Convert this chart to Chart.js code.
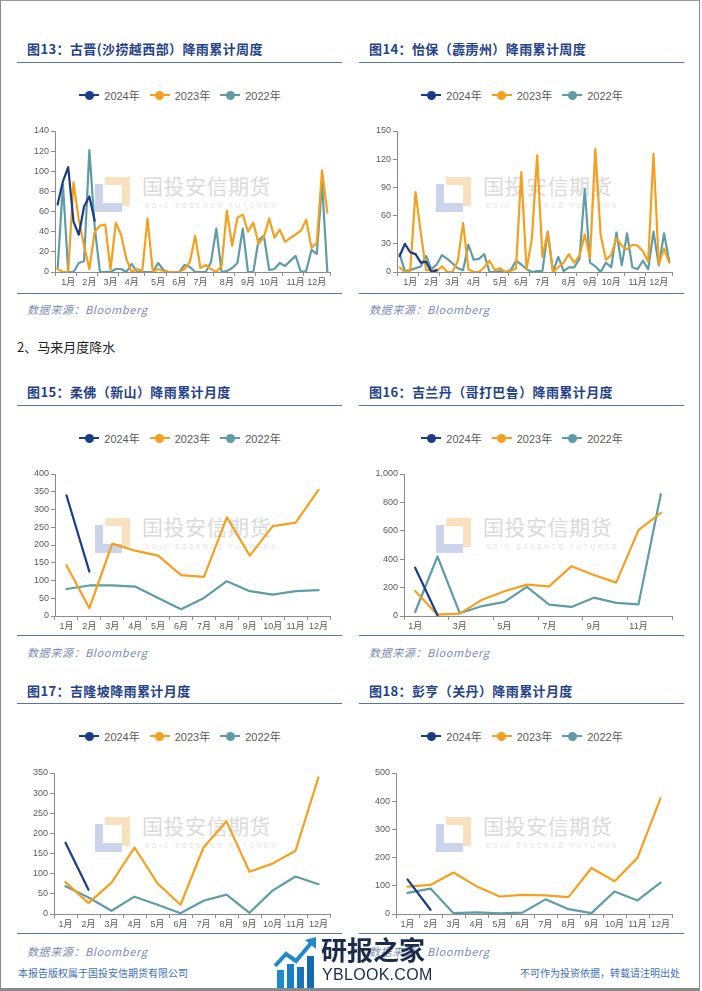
<!DOCTYPE html>
<html lang="zh-CN">
<head>
<meta charset="utf-8">
<title>马来月度降水</title>
<script src="https://cdn.jsdelivr.net/npm/chart.js@4.4.1/dist/chart.umd.min.js"></script>
<style>
  html, body { margin:0; padding:0; background:#fff; }
  body { position:relative; width:702px; height:991px; overflow:hidden; font-family:"Noto Sans CJK SC", sans-serif; }
  .frame { position:absolute; left:0; top:0; width:698px; height:987px; border-left:1px solid #8a8a8a; border-top:1px solid #9a9a9a; border-right:1px solid #8a8a8a; border-bottom:3px solid #8a8a8a; }
  .title { position:absolute; font-size:13px; font-weight:700; color:#24428A; letter-spacing:0.4px; line-height:18px; white-space:nowrap; }
  .section { position:absolute; font-size:13px; color:#222; line-height:18px; white-space:nowrap; }
  .rule { position:absolute; width:325px; height:0; border-top:1.5px solid #5572A9; }
  .source { position:absolute; font-size:11px; font-style:italic; color:#7A8CB6; letter-spacing:0.6px; line-height:14px; white-space:nowrap; }
  .legend { position:absolute; width:324px; height:16px; display:flex; justify-content:center; align-items:center; gap:10px; font-family:"Liberation Sans","Noto Sans CJK SC",sans-serif; font-size:11px; color:#595959; }
  .legend .item { display:flex; align-items:center; gap:5px; }
  .legend .mk { position:relative; width:20px; height:10px; }
  .legend .ln { position:absolute; left:0; top:4px; width:20px; height:2px; }
  .legend .dot { position:absolute; left:5.5px; top:0.5px; width:9px; height:9px; border-radius:50%; }
  .wm { position:absolute; width:200px; height:40px; }
  .wm .or { position:absolute; left:10px; top:0; width:17px; height:21px; border-top:8px solid #F9E1C0; border-right:8px solid #F9E1C0; }
  .wm .bl { position:absolute; left:0; top:7px; width:19px; height:19px; border-left:8px solid #CCD4EC; border-bottom:9px solid #CCD4EC; }
  .wm .t1 { position:absolute; left:47px; top:-5px; font-size:21px; line-height:26px; color:#DADADA; letter-spacing:0.5px; white-space:nowrap; }
  .wm .t2 { position:absolute; left:50px; top:25px; font-family:"Liberation Sans",sans-serif; font-size:6.5px; line-height:8px; color:#E2E2E2; letter-spacing:2.6px; white-space:nowrap; }
  canvas { position:absolute; }
  .foot { position:absolute; font-size:10px; color:#3E6EC0; line-height:14px; white-space:nowrap; }
  .yb1 { position:absolute; left:321px; top:934px; font-size:26px; font-weight:700; color:#1B2B4B; line-height:30px; white-space:nowrap; z-index:5; }
  .yb2 { position:absolute; left:322px; top:965px; font-family:"Liberation Sans",sans-serif; font-size:16px; color:#1B2B4B; line-height:20px; letter-spacing:0.3px; white-space:nowrap; z-index:5; }
</style>
</head>
<body>
<div class="frame"></div>

<div class="title" style="left:27px;top:40px;">图13：古晋(沙捞越西部）降雨累计周度</div>
<div class="title" style="left:369px;top:40px;">图14：怡保（霹雳州）降雨累计周度</div>
<div class="rule" style="left:17px;top:62px;"></div>
<div class="rule" style="left:359px;top:62px;"></div>

<div class="section" style="left:17px;top:338px;">2、马来月度降水</div>

<div class="title" style="left:27px;top:383px;">图15：柔佛（新山）降雨累计月度</div>
<div class="title" style="left:369px;top:383px;">图16：吉兰丹（哥打巴鲁）降雨累计月度</div>
<div class="rule" style="left:17px;top:405px;"></div>
<div class="rule" style="left:359px;top:405px;"></div>

<div class="title" style="left:27px;top:682px;">图17：吉隆坡降雨累计月度</div>
<div class="title" style="left:369px;top:682px;">图18：彭亨（关丹）降雨累计月度</div>
<div class="rule" style="left:17px;top:703px;"></div>
<div class="rule" style="left:359px;top:703px;"></div>

<div class="rule" style="left:17px;top:293px;"></div>
<div class="rule" style="left:359px;top:293px;"></div>
<div class="rule" style="left:17px;top:635px;"></div>
<div class="rule" style="left:359px;top:635px;"></div>
<div class="rule" style="left:17px;top:933px;"></div>
<div class="rule" style="left:359px;top:933px;"></div>

<div class="source" style="left:27px;top:302px;">数据来源：Bloomberg</div>
<div class="source" style="left:369px;top:302px;">数据来源：Bloomberg</div>
<div class="source" style="left:27px;top:645px;">数据来源：Bloomberg</div>
<div class="source" style="left:369px;top:645px;">数据来源：Bloomberg</div>
<div class="source" style="left:27px;top:944px;">数据来源：Bloomberg</div>
<div class="source" style="left:369px;top:944px;">数据来源：Bloomberg</div>

<div id="wm13" class="wm" style="left:95px;top:177px;"></div>
<div id="wm14" class="wm" style="left:436px;top:177px;"></div>
<div id="wm15" class="wm" style="left:95px;top:518px;"></div>
<div id="wm16" class="wm" style="left:436px;top:518px;"></div>
<div id="wm17" class="wm" style="left:95px;top:817px;"></div>
<div id="wm18" class="wm" style="left:436px;top:817px;"></div>

<div id="lg13" class="legend" style="left:18px;top:87px;"></div>
<div id="lg14" class="legend" style="left:360px;top:87px;"></div>
<div id="lg15" class="legend" style="left:18px;top:430px;"></div>
<div id="lg16" class="legend" style="left:360px;top:430px;"></div>
<div id="lg17" class="legend" style="left:18px;top:728px;"></div>
<div id="lg18" class="legend" style="left:360px;top:728px;"></div>

<canvas id="c13" width="324" height="172" style="left:18px;top:120px;"></canvas>
<canvas id="c14" width="324" height="172" style="left:360px;top:120px;"></canvas>
<canvas id="c15" width="324" height="176" style="left:18px;top:460px;"></canvas>
<canvas id="c16" width="324" height="176" style="left:360px;top:460px;"></canvas>
<canvas id="c17" width="324" height="174" style="left:18px;top:760px;"></canvas>
<canvas id="c18" width="324" height="174" style="left:360px;top:760px;"></canvas>

<div class="foot" style="left:18px;top:966px;">本报告版权属于国投安信期货有限公司</div>
<div class="foot" style="right:22px;top:966px;">不可作为投资依据，转载请注明出处</div>

<svg style="position:absolute;left:274px;top:936px;z-index:5;" width="44" height="54" viewBox="0 0 44 54">
  <rect x="3" y="34" width="7" height="18" fill="#1E8AD0"/>
  <rect x="13" y="28" width="7" height="24" fill="#1A7FC6"/>
  <rect x="23" y="31" width="7" height="21" fill="#1775BC"/>
  <rect x="33" y="20" width="7" height="32" fill="#136AB0"/>
  <polyline points="1,30 12,18 22,25 38,6" fill="none" stroke="#1E8AD0" stroke-width="4"/>
  <polygon points="42,1 42,13 31,4" fill="#1E8AD0"/>
</svg>
<div class="yb1">研报之家</div>
<div class="yb2">YBLOOK.COM</div>

<script>
// ---------- labels ----------
const monthLabels = ['1月','2月','3月','4月','5月','6月','7月','8月','9月','10月','11月','12月'];
const seriesNames = ['2024年','2023年','2022年'];
// week slots (52 weekly categories) that carry a month label / a tick mark
const weeklyLabelWeeks = [2, 6, 10, 14, 19, 23, 27, 32, 36, 40, 45, 49];
const weeklyTickWeeks = [0, 4, 8, 12, 17, 21, 25, 30, 34, 38, 43, 47, 52];

// ---------- 图13 古晋 weekly ----------
const kuching2024 = [67, 90, 104, 50, 37, 65, 75, 51];
const kuching2023 = [3, 0, 0, 89, 52, 26, 3, 40, 46, 47, 2, 49, 37, 13, 0, 3, 1, 53, 0, 3, 1, 0, 0, 0, 3, 10, 36, 4, 7, 3, 0, 6, 61, 26, 54, 57, 40, 49, 28, 35, 53, 34, 42, 30, 34, 37, 41, 52, 24, 29, 101, 59];
const kuching2022 = [3, 87, 0, 0, 9, 11, 121, 45, 0, 0, 0, 3, 3, 0, 8, 0, 0, 0, 0, 9, 2, 0, 0, 0, 7, 5, 0, 0, 0, 10, 43, 0, 1, 4, 9, 43, 0, 0, 32, 36, 2, 3, 9, 6, 11, 16, 0, 1, 22, 18, 88, 0];

// ---------- 图14 怡保 weekly ----------
const ipoh2024 = [17, 30, 21, 19, 10, 11, 0, 2];
const ipoh2023 = [5, 0, 1, 85, 42, 2, 2, 1, 6, 0, 0, 12, 52, 3, 0, 0, 5, 12, 2, 4, 0, 1, 4, 106, 3, 35, 124, 16, 42, 0, 5, 10, 19, 10, 17, 40, 15, 131, 40, 13, 18, 36, 28, 24, 29, 28, 22, 11, 126, 8, 25, 10];
const ipoh2022 = [19, 1, 2, 4, 6, 17, 3, 8, 18, 14, 9, 4, 2, 29, 13, 14, 19, 0, 0, 1, 0, 2, 12, 8, 3, 0, 1, 1, 43, 0, 16, 1, 5, 5, 14, 88, 10, 6, 0, 10, 5, 42, 7, 41, 5, 3, 12, 3, 43, 7, 41, 11];

// ---------- 图15 柔佛 monthly ----------
const johor2024 = [340, 125];
const johor2023 = [143, 22, 204, 184, 170, 115, 110, 278, 170, 253, 263, 355];
const johor2022 = [76, 86, 86, 83, 51, 19, 51, 98, 70, 60, 70, 73];

// ---------- 图16 吉兰丹 monthly ----------
const kelantan2024 = [340, 5];
const kelantan2023 = [176, 9, 17, 115, 174, 221, 209, 351, 289, 235, 605, 727];
const kelantan2022 = [28, 419, 19, 70, 99, 205, 80, 64, 129, 92, 82, 859];

// ---------- 图17 吉隆坡 monthly ----------
const kl2024 = [177, 60];
const kl2023 = [79, 27, 78, 165, 76, 23, 165, 230, 105, 125, 157, 339];
const kl2022 = [69, 41, 8, 43, 23, 2, 33, 48, 3, 58, 93, 74];

// ---------- 图18 彭亨 monthly ----------
const pahang2024 = [123, 15];
const pahang2023 = [97, 103, 147, 98, 62, 68, 66, 60, 163, 116, 199, 410];
const pahang2022 = [75, 90, 3, 6, 2, 5, 52, 17, 3, 80, 48, 111];

// ---------- styles ----------
const seriesColors = ['#1A3C8C', '#F5A01C', '#5E9DA6'];
const AXIS = '#8C8C8C';
const TICK = '#595959';
Chart.defaults.font.family = "'Liberation Sans', 'Noto Sans CJK SC', sans-serif";

const weekLabels = Array.from({length: 52}, (_, i) => {
  const m = weeklyLabelWeeks.indexOf(i);
  return m >= 0 ? monthLabels[m] : '';
});

function buildLegend(id) {
  const el = document.getElementById(id);
  seriesNames.forEach((name, i) => {
    const item = document.createElement('div'); item.className = 'item';
    const mk = document.createElement('div'); mk.className = 'mk';
    const ln = document.createElement('div'); ln.className = 'ln'; ln.style.background = seriesColors[i];
    const dot = document.createElement('div'); dot.className = 'dot'; dot.style.background = seriesColors[i];
    mk.appendChild(ln); mk.appendChild(dot);
    const tx = document.createElement('span'); tx.textContent = name;
    item.appendChild(mk); item.appendChild(tx);
    el.appendChild(item);
  });
}

function buildWatermark(id) {
  const el = document.getElementById(id);
  el.innerHTML = '<div class="or"></div><div class="bl"></div><div class="t1">国投安信期货</div><div class="t2">SDIC ESSENCE FUTURES</div>';
}

function buildChart(id, labels, series, yMax, yStep, padTop, yWidth, showLabel, tickIdx) {
  new Chart(document.getElementById(id), {
    type: 'line',
    data: {
      labels: labels,
      datasets: series.map((d, i) => ({
        label: seriesNames[i], data: d,
        borderColor: seriesColors[i], backgroundColor: seriesColors[i],
        borderWidth: 2.2, pointRadius: 0, pointHoverRadius: 0, tension: 0, fill: false,
        borderJoinStyle: 'round', borderCapStyle: 'round'
      }))
    },
    options: {
      responsive: false, animation: false, devicePixelRatio: 1,
      layout: { padding: { top: padTop, right: 12, bottom: 0, left: 0 } },
      plugins: { legend: { display: false }, tooltip: { enabled: false } },
      scales: {
        x: {
          type: 'category', offset: true,
          grid: { display: true, drawOnChartArea: false, drawTicks: true, tickLength: 4, offset: true,
                  color: ctx => (ctx.type !== 'tick' || tickIdx.includes(ctx.index)) ? AXIS : 'rgba(0,0,0,0)' },
          border: { display: true, color: AXIS, width: 1 },
          ticks: { autoSkip: false, maxRotation: 0, minRotation: 0, padding: 1, color: TICK, font: { size: 9 },
                   callback: (v, i) => showLabel(i) ? labels[i] : '' },
          afterFit: s => { s.height = 20; }
        },
        y: {
          min: 0, max: yMax,
          ticks: { stepSize: yStep, padding: 2, color: TICK, font: { size: 9 } },
          grid: { display: true, drawOnChartArea: false, drawTicks: true, tickLength: 4, color: AXIS },
          border: { display: true, color: AXIS, width: 1 },
          afterFit: s => { s.width = yWidth; }
        }
      }
    }
  });
}

['lg13','lg14','lg15','lg16','lg17','lg18'].forEach(buildLegend);
['wm13','wm14','wm15','wm16','wm17','wm18'].forEach(buildWatermark);

const allMonths = () => true;
const oddMonths = i => i % 2 === 0;
const monthTicks = [0,1,2,3,4,5,6,7,8,9,10,11,12];
const everyOtherTick = [0,2,4,6,8,10,12];

buildChart('c13', weekLabels, [kuching2024, kuching2023, kuching2022], 140, 20, 11, 37, allMonths, weeklyTickWeeks);
buildChart('c14', weekLabels, [ipoh2024, ipoh2023, ipoh2022], 150, 30, 11, 37, allMonths, weeklyTickWeeks);
buildChart('c15', monthLabels, [johor2024, johor2023, johor2022], 400, 50, 14, 37, allMonths, monthTicks);
buildChart('c16', monthLabels, [kelantan2024, kelantan2023, kelantan2022], 1000, 200, 14, 44, oddMonths, everyOtherTick);
buildChart('c17', monthLabels, [kl2024, kl2023, kl2022], 350, 50, 13, 36, allMonths, monthTicks);
buildChart('c18', monthLabels, [pahang2024, pahang2023, pahang2022], 500, 100, 13, 36, allMonths, monthTicks);
</script>
</body>
</html>
